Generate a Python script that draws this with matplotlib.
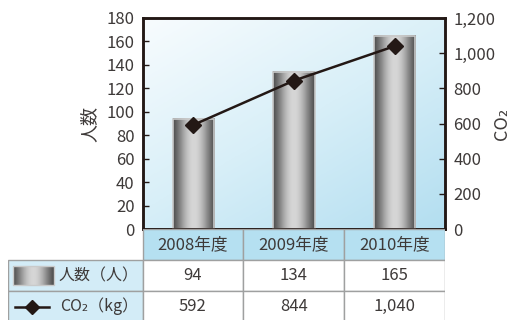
import numpy as np
import matplotlib
matplotlib.use("Agg")
import matplotlib.pyplot as plt
from matplotlib.colors import LinearSegmentedColormap
from matplotlib.patches import Rectangle

plt.rcParams['font.family'] = ['Noto Sans CJK JP', 'DejaVu Sans']

# data
years = ['2008年度', '2009年度', '2010年度']
persons = [94, 134, 165]
co2 = [592, 844, 1040]
co2_labels = ['592', '844', '1,040']
row_labels = ['人数（人）', 'CO₂（kg）']

txt = '#3e3a39'
dark = '#231815'
W, H = 510, 320

fig = plt.figure(figsize=(W / 100, H / 100), dpi=100)

# main plot area (pixel box 143..445 x 18..229)
ax = fig.add_axes([143 / W, (H - 229) / H, 302 / W, 211 / H])
ax2 = ax.twinx()

x = np.arange(len(years))

# background gradient
n = 200
gx, gy = np.meshgrid(np.linspace(0, 1, n), np.linspace(0, 1, n))
bg_cmap = LinearSegmentedColormap.from_list('bg', ['#f8fcfe', '#d8eff8', '#b3def0'])
ax.imshow((gx * 0.9 + gy * 1.1) / 2, cmap=bg_cmap, extent=(-0.5, 2.5, 0, 180),
          aspect='auto', origin='upper', zorder=0, vmin=0, vmax=1)

# bars with cylinder gradient
bar_cmap = LinearSegmentedColormap.from_list('bar', ['#4a4a4a', '#8a8a8a', '#d6d6d6'])
prof = np.sin(np.linspace(0.05, np.pi - 0.05, 100)) ** 1.2
bars = ax.bar(x, persons, width=0.41, color='none', edgecolor='#c9caca', linewidth=1.2, zorder=3)
for b in bars:
    bx, bw, bh = b.get_x(), b.get_width(), b.get_height()
    ax.imshow(prof[None, :], cmap=bar_cmap, extent=(bx, bx + bw, 0, bh),
              aspect='auto', zorder=2, vmin=0, vmax=1)

ax.set_xlim(-0.5, 2.5)
ax.set_ylim(0, 180)
ax.set_yticks(range(0, 181, 20))
ax.set_xticks([])
ax.tick_params(axis='y', direction='in', length=4, width=1, color=dark,
               labelsize=12, labelcolor=txt, pad=6)
ax.set_ylabel('人数', fontsize=13, color=txt, labelpad=6)

# CO2 line
ax2.plot(x, co2, color=dark, linewidth=1.8, marker='D', markersize=8, zorder=5)
ax2.set_ylim(0, 1200)
ax2.set_yticks(range(0, 1201, 200))
ax2.set_yticklabels([f'{v:,}' for v in range(0, 1201, 200)])
ax2.tick_params(axis='y', direction='in', length=4, width=1, color=dark,
                labelsize=12, labelcolor=txt, pad=6)
ax2.set_ylabel('CO₂', fontsize=13, color=txt, va='center')
ax2.yaxis.set_label_coords(1.19, 0.5)

for a in (ax, ax2):
    for s in a.spines.values():
        s.set_color(dark)
        s.set_linewidth(1.8)

# table below (pixel box 8..445 x 229..322)
tab = fig.add_axes([8 / W, (H - 322) / H, 437 / W, 93 / H])
tab.set_xlim(-1.334, 3)
tab.set_ylim(0, 3)
tab.axis('off')

head_fill = '#b5e0f1'
lab_fill = '#d3ecf7'
grid = '#9fa0a0'

for i, yr in enumerate(years):
    tab.add_patch(Rectangle((i, 2), 1, 1, facecolor=head_fill, edgecolor=grid, linewidth=1))
    tab.text(i + 0.5, 2.5, yr, ha='center', va='center', fontsize=12, color=txt)

rows = [[str(v) for v in persons], co2_labels]
for r, (lab, vals) in enumerate(zip(row_labels, rows)):
    yb = 1 - r
    tab.add_patch(Rectangle((-1.334, yb), 1.334, 1, facecolor=lab_fill, edgecolor=grid, linewidth=1))
    tab.text(-0.04, yb + 0.5, lab, ha='right', va='center', fontsize=11.5, color=txt)
    for i, v in enumerate(vals):
        tab.add_patch(Rectangle((i, yb), 1, 1, facecolor='white', edgecolor=grid, linewidth=1))
        tab.text(i + 0.5, yb + 0.5, v, ha='center', va='center', fontsize=12, color=txt)

# legend icons in row label cells
ix0, ix1 = -1.284, -0.878
tab.imshow(prof[None, :], cmap=bar_cmap, extent=(ix0, ix1, 1.2, 1.8),
           aspect='auto', zorder=3, vmin=0, vmax=1)
tab.add_patch(Rectangle((ix0, 1.2), ix1 - ix0, 0.6, facecolor='none', edgecolor='#c9caca', linewidth=1, zorder=4))
tab.plot([-1.26, -0.93], [0.5, 0.5], color=dark, linewidth=1.8, zorder=4)
tab.plot([-1.095], [0.5], color=dark, marker='D', markersize=7, zorder=5)
tab.set_xlim(-1.334, 3)
tab.set_ylim(0, 3)

fig.savefig('out.png', dpi=100)
